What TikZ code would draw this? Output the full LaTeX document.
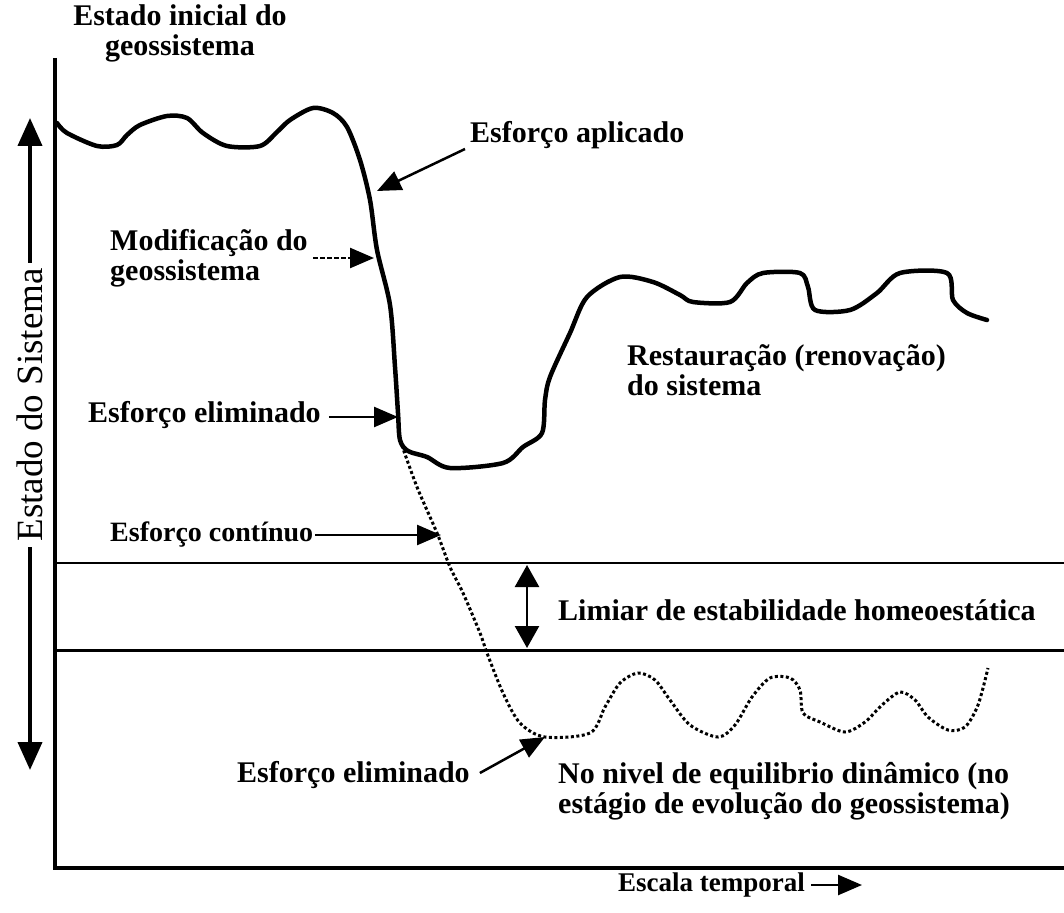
\documentclass[tikz,border=0pt]{standalone}
\usepackage{fontspec}
\setmainfont{Liberation Serif}
\usetikzlibrary{arrows.meta}
\begin{document}
\begin{tikzpicture}[x=1pt,y=-1pt,
  lbl/.style={font=\fontsize{30}{30}\selectfont\bfseries, inner sep=0pt, align=left},
  tip/.style={-{Triangle[length=24pt,width=20pt]}, line width=2.5pt},
  curve/.style={line width=4.5pt, line join=round, line cap=round},
  dots/.style={line width=3pt, dash pattern=on 3pt off 2.5pt}]
\fill[white] (0,0) rectangle (1064,912);
\useasboundingbox (0,0) rectangle (1064,912);

% axes
\coordinate (ytop) at (55,58);
\coordinate (origin) at (55,868);
\coordinate (xend) at (1064,868);
\draw[line width=4pt] (ytop) -- (origin) -- (xend);

% threshold lines
\coordinate (t1l) at (55,563); \coordinate (t1r) at (1064,563);
\coordinate (t2l) at (55,650); \coordinate (t2r) at (1064,650);
\draw[line width=1.5pt] (t1l) -- (t1r);
\draw[line width=3pt] (t2l) -- (t2r);
\coordinate (da) at (527,565); \coordinate (db) at (527,648);
\draw[{Triangle[length=22pt,width=24pt]}-{Triangle[length=22pt,width=24pt]}, line width=2.5pt] (da) -- (db);
\node[lbl, anchor=west] (limiar) at (558,610) {Limiar de estabilidade homeoestática};

% y axis label arrow
\coordinate (sTop) at (30,118);
\coordinate (sBot) at (30,770);
\draw[{Triangle[length=28pt,width=24pt]}-{Triangle[length=28pt,width=24pt]}, line width=4pt]
  (sTop) -- node[pos=0.44, fill=white, rotate=90, font=\fontsize{37}{37}\selectfont, inner sep=5pt] (estado) {Estado do Sistema} (sBot);

% main solid curve
\draw[curve] plot[smooth, tension=0.5] coordinates {
 (57,123) (67,133) (97,146) (117,145) (127,135) (140,125) (167,116) (187,118) (203,133)
 (227,146) (260,146) (277,132) (290,120) (313,108) (333,113) (347,127) (360,160) (370,200)
 (377,250) (390,305) (395,367) (398,413) (400,440) (408,451) (427,457) (450,468) (503,463)
 (523,447) (542,433) (545,400) (550,377) (570,333) (587,297) (620,277) (653,282) (680,295)
 (693,302) (730,302) (747,283) (763,273) (800,273) (808,287) (815,310) (850,310) (877,293)
 (900,273) (947,273) (953,300) (967,313) (987,320)};

% dotted continuation
\draw[dots] plot[smooth, tension=0.5] coordinates {
 (400,440) (417,487) (437,533) (450,567) (463,593) (480,633) (487,653) (503,693) (520,723)
 (545,737) (590,733) (605,707) (620,683) (638,673) (655,680) (670,700) (690,725) (718,737)
 (735,725) (752,697) (770,678) (790,678) (800,690) (803,713) (820,722) (845,732) (865,722)
 (882,705) (900,692) (915,700) (928,717) (948,730) (965,727) (978,705) (988,668)};

% labels
\node[lbl, align=center] (inicial) at (180,33) {Estado inicial do\\geossistema};

\node[lbl, anchor=west] (aplicado) at (470,135) {Esforço aplicado};
\coordinate (aplTip) at (377,191);
\draw[tip] ([xshift=-5pt,yshift=-14pt]aplicado.west) -- (aplTip);

\node[lbl, anchor=west] (modif) at (110,258) {Modificação do\\geossistema};
\coordinate (modTip) at (374,258);
\draw[tip, dash pattern=on 5pt off 2pt] (313,258) -- (modTip);

\node[lbl, anchor=west] (elim1) at (88,415) {Esforço eliminado};
\coordinate (el1Tip) at (398,417);
\draw[tip] ([xshift=8pt,yshift=-2pt]elim1.east) -- (el1Tip);

\node[lbl, anchor=west, font=\fontsize{28}{30}\selectfont\bfseries] (continuo) at (110,535) {Esforço contínuo};
\coordinate (conTip) at (441,535);
\draw[tip] ([xshift=2pt]continuo.east) -- (conTip);

\node[lbl, anchor=west] (elim2) at (237,775) {Esforço eliminado};
\coordinate (el2Tip) at (545,737);
\draw[tip] ([xshift=10pt,yshift=2pt]elim2.east) -- (el2Tip);

\node[lbl, anchor=west] (restaura) at (627,370) {Restauração (renovação)\\do sistema};

\node[lbl, anchor=west] (nivel) at (558,791) {No nivel de equilibrio dinâmico (no\\estágio de evolução do geossistema)};

\node[lbl, anchor=west, font=\fontsize{27}{30}\selectfont\bfseries] (escala) at (618,885) {Escala temporal};
\coordinate (escTip) at (862,885);
\draw[tip] ([xshift=6pt]escala.east) -- (escTip);
\end{tikzpicture}
\end{document}
